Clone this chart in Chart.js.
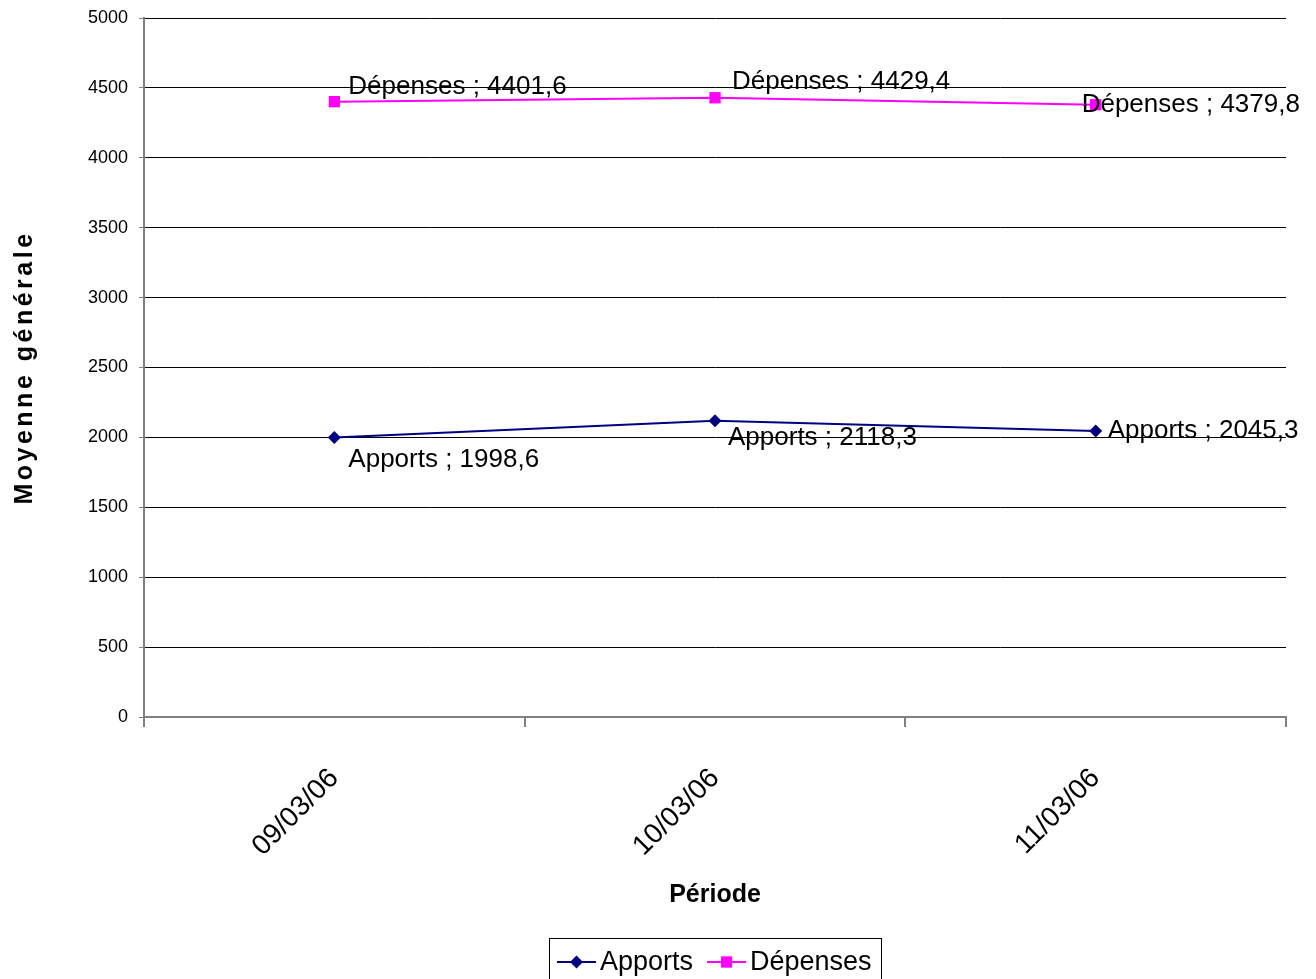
<!DOCTYPE html>
<html>
<head>
<meta charset="utf-8">
<script src="https://cdn.jsdelivr.net/npm/chart.js@4.4.1/dist/chart.umd.min.js"></script>
<style>
  html, body { margin: 0; padding: 0; background: #fff; }
  #wrap { width: 1316px; height: 979px; }
</style>
</head>
<body>
<div id="wrap"><canvas id="myChart" width="1316" height="979"></canvas></div>
<script>
// data
const categories = ['09/03/06', '10/03/06', '11/03/06'];
const apports = [1998.6, 2118.3, 2045.3];
const depenses = [4401.6, 4429.4, 4379.8];
const yTicks = [0, 500, 1000, 1500, 2000, 2500, 3000, 3500, 4000, 4500, 5000];

const FONT = "'Liberation Sans', Arial, sans-serif";

function fmt(v) { return v.toFixed(1).replace('.', ','); }

// where each data label sits relative to its point (px)
const labelOffsets = {
  'Apports': [[14, 22], [13, 17], [12, 0]],
  'Dépenses': [[14, -15], [17, -16], [-14, 0]]
};

const extrasPlugin = {
  id: 'extras',
  afterDatasetsDraw(chart) {
    const ctx = chart.ctx;
    ctx.save();
    ctx.font = '26px ' + FONT;
    ctx.fillStyle = '#000';
    ctx.textAlign = 'left';
    ctx.textBaseline = 'middle';
    chart.data.datasets.forEach((ds, i) => {
      const meta = chart.getDatasetMeta(i);
      meta.data.forEach((pt, j) => {
        const off = labelOffsets[ds.label][j];
        ctx.fillText(ds.label + ' ; ' + fmt(ds.data[j]), pt.x + off[0], pt.y + off[1]);
      });
    });
    ctx.restore();
  },
  afterDraw(chart) {
    const ctx = chart.ctx;
    const area = chart.chartArea;
    ctx.save();
    // y axis title, spaced bold
    ctx.translate(25, (area.top + area.bottom) / 2);
    ctx.rotate(-Math.PI / 2);
    ctx.font = 'bold 25px ' + FONT;
    ctx.letterSpacing = '3.5px';
    ctx.textAlign = 'center';
    ctx.textBaseline = 'middle';
    ctx.fillStyle = '#000';
    ctx.fillText('Moyenne générale', 0, 0);
    ctx.restore();

    // legend with box
    ctx.save();
    ctx.strokeStyle = '#000';
    ctx.lineWidth = 1;
    ctx.strokeRect(549.5, 938.5, 332, 60);
    ctx.font = '27px ' + FONT;
    ctx.textBaseline = 'middle';
    ctx.textAlign = 'left';
    const items = [
      { ds: chart.data.datasets[0], x: 557 },
      { ds: chart.data.datasets[1], x: 707 }
    ];
    items.forEach(it => {
      const y = 962;
      ctx.strokeStyle = it.ds.borderColor;
      ctx.lineWidth = 2;
      ctx.beginPath();
      ctx.moveTo(it.x, y);
      ctx.lineTo(it.x + 39, y);
      ctx.stroke();
      ctx.fillStyle = it.ds.pointBackgroundColor;
      Chart.helpers.drawPoint(ctx, { pointStyle: it.ds.pointStyle, radius: it.ds.pointRadius, borderWidth: 0 }, it.x + 19.5, y);
      ctx.fillStyle = '#000';
      ctx.fillText(it.ds.label, it.x + 43, y + 1);
    });
    ctx.restore();
  }
};

const ctx = document.getElementById('myChart');
const myChart = new Chart(ctx, {
  type: 'line',
  data: {
    labels: categories,
    datasets: [{
      label: 'Apports',
      data: apports,
      borderColor: '#000080',
      borderWidth: 2,
      pointStyle: 'rectRot',
      pointRadius: 6.5,
      pointBackgroundColor: '#000080',
      pointBorderWidth: 0,
      tension: 0
    }, {
      label: 'Dépenses',
      data: depenses,
      borderColor: '#ff00ff',
      borderWidth: 2,
      pointStyle: 'rect',
      pointRadius: 8,
      pointBackgroundColor: '#ff00ff',
      pointBorderWidth: 0,
      tension: 0
    }]
  },
  options: {
    responsive: false,
    animation: false,
    events: [],
    layout: { padding: { top: 18, right: 30, left: 0, bottom: 0 } },
    plugins: {
      legend: { display: false },
      tooltip: { enabled: false }
    },
    scales: {
      x: {
        type: 'category',
        offset: true,
        border: { display: true, color: '#808080', width: 2 },
        grid: { offset: true, drawOnChartArea: false, drawTicks: true, tickLength: 10, color: '#808080', lineWidth: 2 },
        ticks: {
          minRotation: 45, maxRotation: 45, padding: 35,
          color: '#000', font: { family: FONT, size: 28 }
        },
        title: {
          display: true, text: 'Période', color: '#000',
          font: { family: FONT, size: 25, weight: 'bold' },
          padding: { top: 0, bottom: 69 }
        },
        afterFit(scale) { scale.height = 262; }
      },
      y: {
        min: 0, max: 5000,
        afterBuildTicks(scale) { scale.ticks = yTicks.map(v => ({ value: v })); },
        border: { display: true, color: '#808080', width: 2 },
        grid: { color: '#000', lineWidth: 1, tickLength: 5, tickColor: '#808080' },
        ticks: {
          color: '#000', padding: 11, font: { family: FONT, size: 18 },
          callback: (v) => String(v)
        },
        afterFit(scale) {
          scale.width = 144;
          scale.paddingTop = 0;
          scale.paddingBottom = 0;
        }
      }
    }
  },
  plugins: [extrasPlugin]
});
</script>
</body>
</html>
